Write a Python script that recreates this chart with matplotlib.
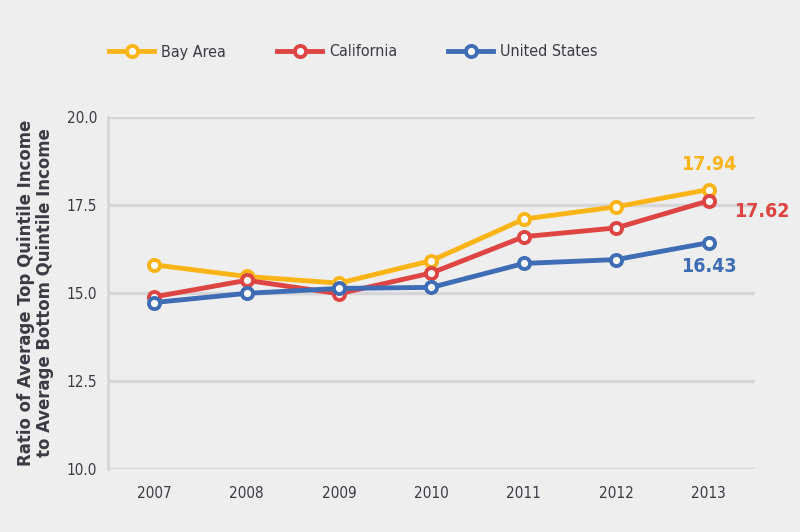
import matplotlib
matplotlib.use("Agg")
import matplotlib.pyplot as plt
from matplotlib.lines import Line2D

years = ["2007", "2008", "2009", "2010", "2011", "2012", "2013"]
bay_area = [15.80, 15.47, 15.28, 15.92, 17.10, 17.45, 17.94]
california = [14.89, 15.36, 14.98, 15.57, 16.60, 16.85, 17.62]
united_states = [14.73, 14.99, 15.13, 15.16, 15.84, 15.95, 16.43]
series_names = ["Bay Area", "California", "United States"]
yticks = [10.0, 12.5, 15.0, 17.5, 20.0]

colors = ["#FBB416", "#DE4441", "#3E6DB6"]
plt.rcParams['font.family'] = ["DejaVu Sans"]
plt.rcParams['font.stretch'] = 'condensed'
bg = "#EEEEEE"
tc = "#3a3a44"

fig = plt.figure(figsize=(8, 5.32), dpi=100, facecolor=bg)
ax = fig.add_axes([108/800, 1-469/532, (755-108)/800, (469-117)/532], facecolor=bg)

x = list(range(len(years)))
for vals, c in zip([bay_area, california, united_states], colors):
    ax.plot(x, vals, color=c, lw=3.5, marker='o', ms=8, mew=2.8, mfc='white', mec=c,
            solid_capstyle='round', zorder=3, clip_on=False)

ax.set_xlim(-0.5, 6.5)
ax.set_ylim(10, 20)
ax.set_yticks(yticks)
ax.set_yticklabels([f"{v:.1f}" for v in yticks], fontsize=11, color=tc)
ax.set_xticks(x)
ax.set_xticklabels(years, fontsize=11, color=tc)
ax.tick_params(length=0, pad=8, axis='y')
ax.tick_params(length=0, pad=12, axis='x')
for s in ['top', 'right', 'bottom']:
    ax.spines[s].set_visible(False)
ax.spines['left'].set_color("#D6D6D8")
ax.spines['left'].set_linewidth(2)
ax.grid(axis='y', color="#D6D6D8", lw=2.5)
ax.set_axisbelow(True)

ax.set_ylabel("Ratio of Average Top Quintile Income\nto Average Bottom Quintile Income",
              fontsize=13.2, fontweight='bold', color=tc, labelpad=9, linespacing=1.05)

ax.annotate(f"{bay_area[-1]:.2f}", (6, bay_area[-1]), xytext=(0, 11), textcoords='offset points',
            ha='center', va='bottom', color=colors[0], fontsize=14, fontweight='bold')
ax.annotate(f"{california[-1]:.2f}", (6, california[-1]), xytext=(18, -8), textcoords='offset points',
            ha='left', va='center', color=colors[1], fontsize=14, fontweight='bold')
ax.annotate(f"{united_states[-1]:.2f}", (6, united_states[-1]), xytext=(0, -10), textcoords='offset points',
            ha='center', va='top', color=colors[2], fontsize=14, fontweight='bold')

handles = [Line2D([0], [0], color=c, lw=3.5, marker='o', ms=8, mew=2.8, mfc='white', mec=c)
           for c in colors]
leg = fig.legend(handles, series_names, loc='center left', bbox_to_anchor=(95/800, 1-52/532),
                 ncol=3, frameon=False, fontsize=11.5, handlelength=2.8, columnspacing=3.2,
                 handletextpad=0.45)
for t in leg.get_texts():
    t.set_color(tc)

fig.savefig("out.png", dpi=100, facecolor=bg)
